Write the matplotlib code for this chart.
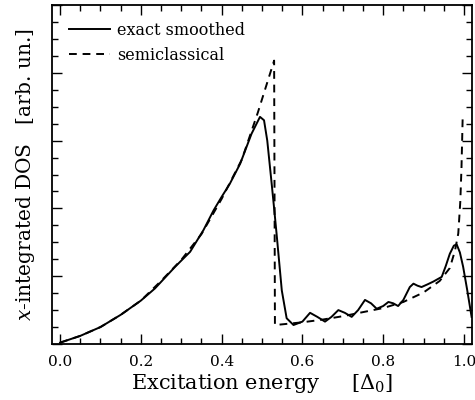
import matplotlib
matplotlib.use("Agg")
import matplotlib.pyplot as plt
from matplotlib.ticker import MultipleLocator, NullFormatter

# exact smoothed DOS
exact_x = [0.0, 0.05, 0.1, 0.15, 0.2, 0.235, 0.285, 0.322, 0.355, 0.38, 0.40, 0.42,
           0.446, 0.474, 0.495, 0.505, 0.513, 0.524, 0.530, 0.536, 0.549, 0.561, 0.578,
           0.60, 0.619, 0.637, 0.656, 0.672, 0.689, 0.705, 0.722, 0.738, 0.755, 0.77,
           0.784, 0.80, 0.813, 0.825, 0.837, 0.85, 0.866, 0.875, 0.885, 0.895, 0.91,
           0.924, 0.945, 0.955, 0.965, 0.975, 0.982, 0.99, 0.998, 1.008, 1.019]
exact_y = [0.02, 0.12, 0.25, 0.43, 0.64, 0.82, 1.14, 1.36, 1.68, 1.97, 2.17, 2.36,
           2.66, 3.10, 3.35, 3.30, 3.0, 2.36, 2.0, 1.63, 0.79, 0.38, 0.28,
           0.33, 0.46, 0.40, 0.33, 0.40, 0.50, 0.46, 0.40, 0.50, 0.65, 0.60,
           0.52, 0.56, 0.62, 0.60, 0.56, 0.65, 0.84, 0.89, 0.86, 0.84, 0.88,
           0.92, 0.99, 1.15, 1.33, 1.45, 1.47, 1.35, 1.14, 0.80, 0.40]

# semiclassical DOS
semi_x = [0.0, 0.05, 0.1, 0.15, 0.2, 0.25, 0.3, 0.35, 0.4, 0.45, 0.49, 0.53, 0.532,
          0.55, 0.6, 0.65, 0.7, 0.75, 0.8, 0.85, 0.9, 0.94, 0.965, 0.978, 0.986,
          0.991, 0.994, 0.997]
semi_y = [0.02, 0.12, 0.25, 0.43, 0.64, 0.93, 1.24, 1.62, 2.14, 2.72, 3.42, 4.18, 0.28,
          0.29, 0.32, 0.36, 0.41, 0.47, 0.53, 0.62, 0.76, 0.93, 1.12, 1.38, 1.63,
          2.1, 2.61, 3.37]

xticks = [0.0, 0.2, 0.4, 0.6, 0.8, 1.0]
xticklabels = ["0.0", "0.2", "0.4", "0.6", "0.8", "1.0"]

plt.rcParams['font.family'] = ['DejaVu Serif']
plt.rcParams['mathtext.fontset'] = 'dejavuserif'

fig = plt.figure(figsize=(4.75, 4.0), dpi=100)
ax = fig.add_axes([0.1095, 0.14, 0.8842, 0.8475])

ax.plot(exact_x, exact_y, color='black', lw=1.4, ls='-', label='exact smoothed')
ax.plot(semi_x, semi_y, color='black', lw=1.4, ls=(0, (4, 3)), label='semiclassical')

ax.set_xlim(-0.02, 1.02)
ax.set_ylim(0, 5)
ax.set_xticks(xticks)
ax.set_xticklabels(xticklabels, fontsize=11)
ax.xaxis.set_minor_locator(MultipleLocator(0.05))
ax.yaxis.set_major_locator(MultipleLocator(1))
ax.yaxis.set_minor_locator(MultipleLocator(0.25))
ax.yaxis.set_major_formatter(NullFormatter())
ax.tick_params(which='both', direction='in', top=True, right=True, width=1.0)
ax.tick_params(which='major', length=7)
ax.tick_params(which='minor', length=4)
ax.tick_params(axis='x', pad=8)
for s in ax.spines.values():
    s.set_linewidth(1.3)

ax.set_xlabel(r"Excitation energy     $[\Delta_0]$", fontsize=15, labelpad=2)
ax.set_ylabel(r"$x$-integrated DOS   [arb. un.]", fontsize=14.5, labelpad=7)

ax.legend(loc='upper left', frameon=False, fontsize=11.5, handlelength=2.6,
          handletextpad=0.4, borderaxespad=0.85, labelspacing=0.5,
          borderpad=0.2)

fig.savefig("out.png", dpi=100)
